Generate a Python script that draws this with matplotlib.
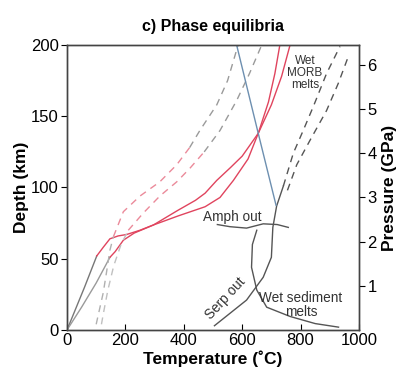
import numpy as np
import matplotlib
matplotlib.use("Agg")
import matplotlib.pyplot as plt

plt.rcParams["font.family"] = ["Liberation Sans", "DejaVu Sans"]

# slab surface geotherms (gray near the trench, red deeper)
a_t = [0, 30, 60, 102, 124, 147, 175, 204, 250, 296, 380, 473, 524, 570, 620, 655, 690, 712, 729]
a_d = [0, 15, 30, 52, 58, 64, 66, 67, 70, 73.7, 80, 86.5, 93, 105, 120, 138, 160, 180, 200]
a_split = 3
b_t = [0, 50, 100, 147, 165, 193, 230, 296, 380, 440, 473, 513, 560, 600, 655, 700, 735, 764]
b_d = [0, 16, 33, 51, 55, 63, 68, 73.7, 84, 91, 96, 105, 114, 122, 138, 158, 178, 200]
b_split = 3

# dashed geotherms (red lower part, gray upper part)
c_t = [159, 193, 250, 318, 376, 420, 455, 513, 550, 586]
c_d = [65.5, 83, 94, 104, 116, 128, 140, 158, 175, 200]
c_split = 5
e_t = [210, 261, 318, 376, 421, 470, 524, 581, 625, 667]
e_d = [70, 82, 94, 104, 113.5, 125, 140, 161, 180, 200]
e_split = 5
g1_t = [100, 107, 124, 135, 147, 159]
g1_d = [4, 10.5, 26, 40, 56, 65.5]
g2_t = [118, 125, 140, 160, 185, 210]
g2_d = [4, 12, 28, 45, 60, 70]

# phase boundaries
serp_t = [505, 560, 615, 672, 700, 705, 718, 741]
serp_d = [3, 12, 21, 37, 51, 72, 87, 101]
serp2_t = [741, 775, 809, 844, 889, 935]
serp2_d = [101, 124, 140, 157, 180, 199]
morb_t = [755, 787, 832, 889, 929, 960]
morb_d = [98, 116, 133, 154, 173, 190]
sed_t = [930, 850, 764, 684, 650, 632, 635, 650]
sed_d = [2, 4.5, 9.5, 16, 28, 44, 60, 70]
amph_t = [515, 558, 615, 672, 720, 758]
amph_d = [74, 72.5, 71.5, 74.5, 74, 72]
blue_t = [581, 655, 716]
blue_d = [200, 138, 87.5]

red = "#e0445e"
dark = "#555555"
light = "#9a9a9a"

fig = plt.figure(figsize=(4.07, 3.79), dpi=100)
ax = fig.add_axes([0.1646, 0.1293, 0.7174, 0.752])

ax.plot(a_t[:a_split + 1], a_d[:a_split + 1], color="#777777", lw=1)
ax.plot(a_t[a_split:], a_d[a_split:], color=red, lw=1)
ax.plot(b_t[:b_split + 1], b_d[:b_split + 1], color=light, lw=1)
ax.plot(b_t[b_split:], b_d[b_split:], color=red, lw=1)

dash = (0, (5, 4))
ax.plot(c_t[:c_split + 1], c_d[:c_split + 1], color="#eb8a9a", lw=1, ls=dash)
ax.plot(c_t[c_split:], c_d[c_split:], color=light, lw=1, ls=dash)
ax.plot(e_t[:e_split + 1], e_d[:e_split + 1], color="#eb8a9a", lw=1, ls=dash)
ax.plot(e_t[e_split:], e_d[e_split:], color=light, lw=1, ls=dash)
ax.plot(g1_t, g1_d, color="#b0b0b0", lw=1, ls=dash)
ax.plot(g2_t, g2_d, color="#c0c0c0", lw=1, ls=dash)

ax.plot(serp_t, serp_d, color=dark, lw=1)
ax.plot(serp2_t, serp2_d, color=dark, lw=1, ls=dash)
ax.plot(morb_t, morb_d, color=dark, lw=1, ls=dash)
ax.plot(sed_t, sed_d, color=dark, lw=1)
ax.plot(amph_t, amph_d, color=dark, lw=1)
ax.plot(blue_t, blue_d, color="#6d8fb0", lw=1)

ax.text(566, 79, "Amph out", fontsize=9.8, ha="center", va="center", color="#333333")
ax.text(801, 17.5, "Wet sediment\nmelts", fontsize=9.8, ha="center", va="center",
        color="#333333", linespacing=1.0)
ax.text(541, 22.5, "Serp out", fontsize=9.8, ha="center", va="center",
        rotation=47, color="#333333")
ax.text(815, 180, "Wet\nMORB\nmelts", fontsize=8.5, ha="center", va="center",
        color="#333333", linespacing=1.0)

ax.set_xlim(0, 1000)
ax.set_ylim(0, 200)
ax.set_xticks([0, 200, 400, 600, 800, 1000])
ax.set_yticks([0, 50, 100, 150, 200])
ax.tick_params(axis="x", direction="in", labelsize=12, length=4, pad=2)
ax.tick_params(axis="y", direction="out", labelsize=12, length=4, pad=2)
ax.set_xlabel("Temperature (˚C)", fontsize=12.5, fontweight="bold", labelpad=2)
ax.set_ylabel("Depth (km)", fontsize=12.5, fontweight="bold", labelpad=1)
ax.set_title("c) Phase equilibria", fontsize=11.5, fontweight="bold", pad=10)

km_per_gpa = 31.0
ax2 = ax.twinx()
ax2.set_ylim(0, 200 / km_per_gpa)
ax2.set_yticks([1, 2, 3, 4, 5, 6])
ax2.tick_params(axis="y", direction="out", labelsize=12, length=4, pad=2)
ax2.set_ylabel("Pressure (GPa)", fontsize=12.5, fontweight="bold", labelpad=4)

for a in (ax, ax2):
    for s in a.spines.values():
        s.set_color("#444444")
        s.set_linewidth(1)

fig.savefig("out.png", dpi=100)
